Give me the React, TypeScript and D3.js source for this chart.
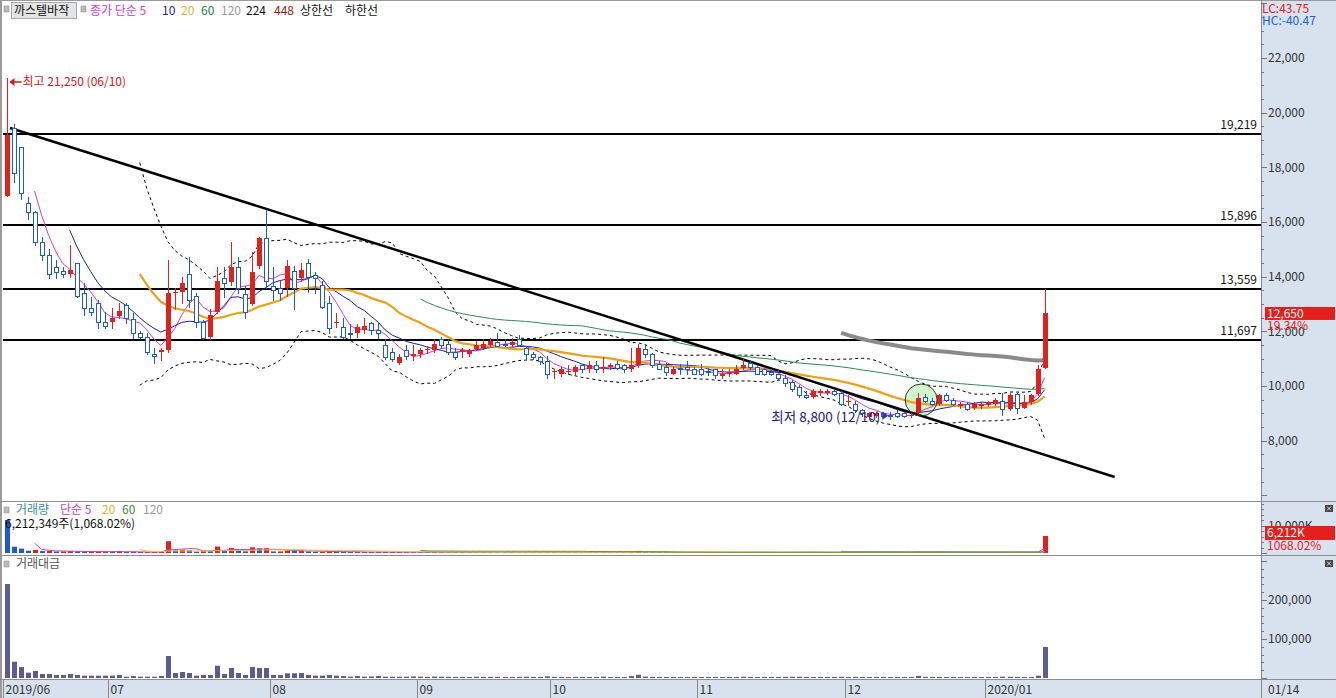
import React from "react";
import * as d3 from "d3";

// ---------- DATA ----------
const monthLabels = [
  { i: 0, label: "2019/06" }, { i: 15, label: "07" }, { i: 38, label: "08" }, { i: 59, label: "09" },
  { i: 78, label: "10" }, { i: 99, label: "11" }, { i: 120, label: "12" }, { i: 140, label: "2020/01" },
];
const lastDateLabel = "01/14";

const opens = [
  16950, 19450, 18750, 16700, 16350, 15250, 14800, 14350, 14200, 14100,
  14500, 13400, 12850, 13050, 12350, 12350, 12550, 12950, 12450, 11950,
  11800, 11150, 11250, 11300, 13400, 13450, 14100, 13300, 12350, 11800,
  12700, 13950, 13800, 14350, 13350, 13000, 14400, 15400, 13650, 13600,
  13600, 14200, 13950, 14500, 14050, 13700, 13050, 12300, 12150, 11950,
  11950, 12050, 12300, 12050, 11500, 11250, 10850, 11300, 11100, 11150,
  11300, 11300, 11700, 11550, 11250, 11250, 11150, 11350, 11400, 11500,
  11600, 11550, 11500, 11700, 11400, 11150, 11050, 10900, 10500, 10450,
  10500, 10500, 10750, 10600, 10750, 10600, 10700, 10800, 10750, 10600,
  10750, 11350, 11150, 10800, 10700, 10450, 10650, 10700, 10600, 10600,
  10550, 10600, 10350, 10450, 10450, 10650, 10850, 10700, 10600, 10500,
  10450, 10300, 10150, 9950, 9650, 9600, 9750, 9750, 9800, 9750,
  9400, 9350, 9100, 8850, 8900, 9000, 8950, 9000, 9000, 8900,
  9000, 9600, 9450, 9350, 9650, 9500, 9250, 9350, 9200, 9250,
  9300, 9350, 9450, 9150, 9700, 9200, 9400, 9700, 10650,
];
const highs = [
  21250, 19600, 18750, 16900, 16400, 15450, 15000, 14600, 14350, 15150,
  14500, 13750, 13250, 13150, 12700, 12850, 13050, 13050, 12650, 12000,
  11950, 11400, 11400, 14600, 13600, 14000, 14700, 13400, 12400, 12800,
  14350, 14350, 15250, 14700, 13650, 14900, 15450, 16450, 14350, 13850,
  14600, 14400, 14500, 14650, 14150, 13850, 13300, 12650, 12500, 12250,
  12250, 12500, 12350, 12300, 11700, 11400, 11150, 11500, 11500, 11400,
  11450, 11700, 11800, 11700, 11400, 11400, 11350, 11650, 11700, 11750,
  11950, 11700, 11750, 11850, 11450, 11250, 11100, 11100, 10600, 10700,
  10750, 10750, 10800, 10900, 10900, 11050, 10850, 10900, 10800, 11400,
  11550, 11500, 11200, 10900, 10850, 10700, 10800, 10900, 10700, 10800,
  10650, 10600, 10600, 10600, 10750, 11000, 10950, 10750, 10650, 10600,
  10600, 10400, 10200, 10050, 9800, 9900, 9900, 9900, 9850, 9800,
  9650, 9450, 9150, 9050, 9050, 9050, 9050, 9100, 9050, 9000,
  9750, 9700, 9550, 9700, 9750, 9550, 9400, 9400, 9400, 9400,
  9450, 9550, 9750, 9750, 9750, 9650, 9700, 10750, 13550,
];
const lows = [
  16950, 17450, 16850, 16100, 15150, 14600, 13950, 13950, 14000, 14000,
  13250, 12600, 12600, 12100, 12100, 12100, 12500, 12300, 11750, 11750,
  11150, 10850, 10950, 11250, 12800, 13050, 12900, 12150, 11700, 11700,
  12650, 13250, 13700, 13400, 12500, 12950, 14300, 13600, 13150, 13150,
  13300, 12800, 13850, 13450, 13400, 12850, 11950, 12150, 11750, 11750,
  11800, 11950, 11900, 11750, 11000, 10900, 10800, 11000, 10950, 11050,
  11200, 11250, 11400, 11150, 11000, 11050, 11100, 11300, 11350, 11450,
  11450, 11450, 11450, 11450, 11000, 11000, 10800, 10300, 10300, 10350,
  10450, 10450, 10500, 10500, 10500, 10500, 10600, 10600, 10500, 10550,
  10700, 11050, 10700, 10600, 10400, 10450, 10450, 10450, 10450, 10400,
  10400, 10300, 10300, 10350, 10450, 10600, 10600, 10450, 10400, 10400,
  10250, 10000, 9800, 9600, 9550, 9550, 9650, 9700, 9650, 9300,
  9300, 9050, 8900, 8850, 8850, 8850, 8800, 8850, 8850, 8850,
  8950, 9400, 9300, 9300, 9450, 9300, 9200, 9100, 9150, 9200,
  9250, 9300, 8950, 9100, 9000, 9200, 9350, 9650, 10650,
];
const closes = [
  19200, 17800, 17050, 16350, 15250, 14800, 14100, 14150, 14100, 14250,
  13300, 12850, 12700, 12350, 12200, 12500, 12750, 12500, 11950, 11800,
  11250, 11100, 11300, 13400, 13450, 13750, 13150, 12350, 11750, 12600,
  13850, 13750, 14350, 13600, 12700, 14150, 15400, 13850, 13500, 13400,
  14400, 13600, 14250, 14000, 13950, 12900, 12100, 12350, 11800, 11900,
  12150, 12200, 12050, 11950, 11050, 11000, 11050, 11100, 11150, 11300,
  11350, 11550, 11500, 11250, 11050, 11300, 11300, 11500, 11550, 11650,
  11450, 11500, 11600, 11500, 11150, 11050, 10900, 10450, 10550, 10600,
  10550, 10700, 10600, 10750, 10600, 10700, 10750, 10650, 10600, 10750,
  11400, 11150, 10750, 10600, 10500, 10600, 10600, 10600, 10450, 10450,
  10500, 10400, 10450, 10500, 10600, 10750, 10700, 10450, 10450, 10450,
  10300, 10100, 9900, 9650, 9600, 9800, 9800, 9800, 9700, 9350,
  9450, 9100, 9000, 9000, 9000, 8900, 8900, 8900, 8900, 8950,
  9550, 9450, 9350, 9650, 9500, 9350, 9350, 9150, 9350, 9350,
  9400, 9500, 9150, 9650, 9200, 9400, 9650, 10600, 12650,
];
// volume, thousand shares
const volumes = [
  12000, 2300, 1600, 830, 1150, 700, 720, 540, 545, 720,
  560, 460, 470, 480, 490, 480, 610, 270, 410, 290,
  300, 310, 450, 4300, 950, 1150, 950, 480, 640, 630,
  2350, 740, 1800, 930, 590, 2050, 1700, 1750, 560, 570,
  870, 860, 900, 550, 430, 450, 620, 490, 420, 290,
  420, 280, 330, 420, 300, 310, 310, 300, 360, 300,
  265, 330, 280, 265, 250, 230, 220, 280, 260, 245,
  260, 225, 235, 255, 295, 255, 275, 400, 285, 245,
  225, 262, 235, 252, 235, 318, 242, 235, 226, 445,
  730, 320, 275, 245, 255, 226, 217, 236, 228, 238,
  219, 248, 230, 219, 238, 310, 262, 248, 229, 220,
  250, 295, 320, 340, 280, 258, 235, 225, 236, 330,
  276, 315, 298, 267, 256, 245, 290, 256, 245, 235,
  560, 315, 255, 305, 265, 245, 225, 238, 215, 214,
  222, 233, 360, 340, 295, 245, 275, 581.67, 6212.349,
];
// trading value, million won
const tradeValues = [
  241000, 41800, 28000, 13600, 18000, 10300, 10300, 7700, 7700, 10300,
  7700, 6000, 6000, 6000, 6000, 6000, 7700, 3400, 5000, 3400,
  3400, 3400, 5000, 56400, 12800, 15400, 12800, 6000, 7700, 7700,
  31500, 10300, 25600, 12800, 7700, 28200, 25600, 25600, 7700, 7700,
  12000, 12000, 12800, 7700, 6000, 6000, 7700, 6000, 5000, 3400,
  5000, 3400, 4000, 5000, 3400, 3400, 3400, 3400, 4000, 3400,
  3000, 3800, 3200, 3000, 2800, 2600, 2500, 3200, 3000, 2800,
  3000, 2600, 2700, 2900, 3300, 2800, 3000, 4200, 3000, 2600,
  2400, 2800, 2500, 2700, 2500, 3400, 2600, 2500, 2400, 4800,
  8200, 3600, 3000, 2600, 2700, 2400, 2300, 2500, 2400, 2500,
  2300, 2600, 2400, 2300, 2500, 3300, 2800, 2600, 2400, 2300,
  2600, 3000, 3200, 3300, 2700, 2500, 2300, 2200, 2300, 3100,
  2600, 2900, 2700, 2400, 2300, 2200, 2600, 2300, 2200, 2100,
  5200, 3000, 2400, 2900, 2500, 2300, 2100, 2200, 2000, 2000,
  2100, 2200, 3400, 3200, 2800, 2300, 2600, 5900, 79500,
];

const priceTicks = [8000, 10000, 12000, 14000, 16000, 18000, 20000, 22000];
const levelLines = [19219, 15896, 13559, 11697];
const trendPoints = [{ i: 0.5, p: 19440 }, { i: 158, p: 6665 }];
const circleMark = { i: 130.4, p: 9483, r: 16 };
const highMark = { i: 0, p: 21250, text: "최고 21,250 (06/10)" };
const lowMark = { i: 126, p: 8800, text: "최저 8,800 (12/10)" };
const valueTicks = [100000, 200000];
const volTicks = [10000];
const maPeriods = [5, 10, 20, 60, 120];

// ---------- LAYOUT ----------
const W = 1336, H = 698;
const PL = 3, PR = 1261;
const SLOT = 7.014;
const FONT = "'Noto Sans CJK KR', 'Noto Sans', sans-serif";
const RED = "#e3211c", BLUE = "#1c5ad0", AXBG = "#d8e1ee";

const x = d3.scaleLinear().domain([-0.5, 178.5]).range([PL, PL + 179 * SLOT]);
const yP = d3.scaleLinear().domain([5823, 24123]).range([500, 0]);
const yV = d3.scaleLinear().domain([0, 18600]).range([553, 502]);
const yT = d3.scaleLinear().domain([0, 312800]).range([678, 556]);

function sma(arr: number[], n: number): (number | null)[] {
  return arr.map((_, i) => (i < n - 1 ? null : (d3.mean(arr.slice(i - n + 1, i + 1)) as number)));
}
function bands(arr: number[], n: number, k: number) {
  const up: (number | null)[] = [], dn: (number | null)[] = [];
  arr.forEach((_, i) => {
    if (i < n - 1) { up.push(null); dn.push(null); return; }
    const s = arr.slice(i - n + 1, i + 1);
    const m = d3.mean(s) as number;
    const sd = Math.sqrt(d3.mean(s.map(v => (v - m) ** 2)) as number);
    up.push(m + k * sd); dn.push(m - k * sd);
  });
  return { up, dn };
}
function pathOf(vals: (number | null)[], ys: d3.ScaleLinear<number, number>) {
  const line = d3.line<number | null>()
    .defined(v => v != null)
    .x((_, i) => x(i))
    .y(v => ys(v as number));
  return line(vals) || "";
}

export default function App() {
  const n = closes.length;
  const ma = maPeriods.map(p => sma(closes, p));
  const bb = bands(closes, 20, 2);
  const vma = [5, 20, 60, 120].map(p => sma(volumes, p));
  const maColors = ["#d23cd6", "#1e1e9c", "#e8a21e", "#2e8a4e", "#8a8a8a"];
  const maWidths = [1, 1, 2.2, 1, 4];
  const vmaColors = ["#c83cc8", "#e8c81e", "#5a9a2a", "#8a8a8a"];

  const mainTicksMinor = d3.range(6000, 24001, 500);
  const lastClose = closes[n - 1], prevClose = closes[n - 2];
  const chg = ((lastClose / prevClose - 1) * 100).toFixed(2);
  const lastVol = volumes[n - 1], prevVol = volumes[n - 2];
  const vratio = (lastVol / prevVol) * 100;

  return (
    <svg width={W} height={H} style={{ position: "absolute", left: 0, top: 0, background: "#fff" }}
      fontFamily={FONT} fontSize={12}>
      <defs>
        <clipPath id="mainClip"><rect x={PL} y={0} width={PR - PL} height={500} /></clipPath>
      </defs>
      <rect x={0} y={0} width={W} height={H} fill="#fff" />
      <rect x={PR} y={0} width={W - PR} height={H} fill={AXBG} />
      <rect x={0} y={679} width={W} height={H - 679} fill={AXBG} />
      <rect x={0} y={0} width={2} height={H} fill="#9a9a9a" />
      <line x1={0} x2={W} y1={0.5} y2={0.5} stroke="#9a9a9a" />
      {[501.5, 555.5, 679.5].map(yy => <line key={yy} x1={0} x2={W} y1={yy} y2={yy} stroke="#8e8e8e" />)}
      <line x1={PR + 0.5} x2={PR + 0.5} y1={0} y2={H} stroke="#888" />

      {/* main axis ticks */}
      {mainTicksMinor.map(t => {
        const yy = Math.round(yP(t)) + 0.5;
        const major = t % 2000 === 0;
        return yy > 2 && yy < 500 ? <line key={t} x1={PR} x2={PR + (major ? 6 : 3)} y1={yy} y2={yy} stroke="#777" /> : null;
      })}
      {priceTicks.map(t => (
        <text key={t} x={PR + 7} y={yP(t)} dy="0.36em" fill="#333">{d3.format(",")(t)}</text>
      ))}
      {d3.range(0, 18001, 2000).map(t => (
        <line key={"v" + t} x1={PR} x2={PR + (t % 10000 === 0 ? 6 : 3)} y1={Math.round(yV(t)) + 0.5} y2={Math.round(yV(t)) + 0.5} stroke="#777" />
      ))}
      {volTicks.map(t => <text key={"vt" + t} x={PR + 7} y={yV(t)} dy="0.36em" fill="#333">{d3.format(",")(t)}K</text>)}
      {d3.range(0, 300001, 20000).map(t => (
        <line key={"t" + t} x1={PR} x2={PR + (t % 100000 === 0 ? 6 : 3)} y1={Math.round(yT(t)) + 0.5} y2={Math.round(yT(t)) + 0.5} stroke="#777" />
      ))}
      {valueTicks.map(t => <text key={"tt" + t} x={PR + 7} y={yT(t)} dy="0.36em" fill="#333">{d3.format(",")(t)}</text>)}

      {/* header */}
      <rect x={4} y={6} width={5} height={6} fill="#bbb" stroke="#888" strokeWidth={0.5} />
      <rect x={11.5} y={2.5} width={65} height={16} fill="#e4e4e4" stroke="#aaa" />
      <text x={14} y={15} fill="#111">까스텔바작</text>
      <rect x={81} y={6} width={5} height={6} fill="#bbb" stroke="#888" strokeWidth={0.5} />
      <text x={90} y={15} fill="#d23cd6">종가 단순 5</text>
      <text x={162} y={15} fill="#1e1e9c">10</text>
      <text x={181} y={15} fill="#e0b030">20</text>
      <text x={201} y={15} fill="#208040">60</text>
      <text x={221} y={15} fill="#999">120</text>
      <text x={246} y={15} fill="#111">224</text>
      <text x={274} y={15} fill="#8b1a1a">448</text>
      <text x={300} y={15} fill="#111">상한선</text>
      <text x={345} y={15} fill="#111">하한선</text>
      <text x={1262} y={9} dy="0.36em" fill="#e02020">LC:43.75</text>
      <text x={1262} y={21} dy="0.36em" fill="#2060d0">HC:-40.47</text>

      <g clipPath="url(#mainClip)">
        <circle cx={x(circleMark.i)} cy={yP(circleMark.p)} r={circleMark.r} fill="#c6f2bf" opacity={0.8} />
        {levelLines.map(l => (
          <line key={l} x1={PL} x2={PR} y1={Math.round(yP(l))} y2={Math.round(yP(l))} stroke="#000" strokeWidth={2} />
        ))}
        <path d={pathOf(bb.up, yP)} fill="none" stroke="#000" strokeWidth={1} strokeDasharray="3,3" />
        <path d={pathOf(bb.dn, yP)} fill="none" stroke="#000" strokeWidth={1} strokeDasharray="3,3" />
        {ma.map((m, k) => (
          <path key={k} d={pathOf(m, yP)} fill="none" stroke={maColors[k]} strokeWidth={maWidths[k]} />
        ))}
        <line x1={x(trendPoints[0].i)} y1={yP(trendPoints[0].p)} x2={x(trendPoints[1].i)} y2={yP(trendPoints[1].p)}
          stroke="#000" strokeWidth={2.5} />
        {closes.map((c, i) => {
          const o = opens[i], up = c >= o;
          const cx = Math.round(x(i));
          const top = Math.round(yP(Math.max(o, c)));
          const bot = Math.round(yP(Math.min(o, c)));
          const col = up ? RED : BLUE;
          return (
            <g key={i}>
              <line x1={cx + 0.5} x2={cx + 0.5} y1={Math.round(yP(highs[i]))} y2={Math.round(yP(lows[i])) + 1} stroke={col} />
              {up
                ? <rect x={cx - 2} y={top} width={5} height={Math.max(1, bot - top)} fill={col} />
                : <rect x={cx - 1.5} y={top + 0.5} width={4} height={Math.max(0.01, bot - top)} fill="#fff" stroke={col} />}
            </g>
          );
        })}
        <circle cx={x(circleMark.i)} cy={yP(circleMark.p)} r={circleMark.r} fill="none" stroke="#333" strokeWidth={1} />
      </g>

      {levelLines.map(l => (
        <text key={"l" + l} x={PR - 4} y={Math.round(yP(l)) - 5} textAnchor="end" fill="#111">{d3.format(",")(l)}</text>
      ))}

      {/* high / low annotations */}
      <line x1={x(highMark.i) + 15} x2={x(highMark.i) + 4} y1={yP(highMark.p) + 3.5} y2={yP(highMark.p) + 3.5} stroke="#d01818" strokeWidth={1.5} />
      <path d={`M${x(highMark.i) + 3},${yP(highMark.p) + 3.5} l5,-4 v8 z`} fill="#d01818" />
      <text x={x(highMark.i) + 16} y={yP(highMark.p) + 3.5} dy="0.36em" fill="#d01818">{highMark.text}</text>
      <text x={x(lowMark.i) - 10} y={yP(lowMark.p) - 2} dy="0.36em" textAnchor="end" fontSize={13.5} fill="#22228a">{lowMark.text}</text>
      <path d={`M${x(lowMark.i) - 8},${yP(lowMark.p) - 7} l6,4 l-6,4 z`} fill="#1c3ad0" />

      {/* last price box */}
      <rect x={1265} y={yP(lastClose) - 6.5} width={70} height={13} fill="#e3211c" />
      <text x={1267} y={yP(lastClose)} dy="0.36em" fill="#fff">{d3.format(",")(lastClose)}</text>
      <text x={1267} y={yP(lastClose) + 12} dy="0.36em" fill="#e3211c">{chg}%</text>

      {/* volume panel */}
      <rect x={4} y={507} width={5} height={6} fill="#bbb" stroke="#888" strokeWidth={0.5} />
      <text x={16} y={514} fill="#3a8a9a">거래량</text>
      <text x={60} y={514} fill="#c83cc8">단순 5</text>
      <text x={102} y={514} fill="#e0b030">20</text>
      <text x={122} y={514} fill="#3a8a3a">60</text>
      <text x={143} y={514} fill="#999">120</text>
      {volumes.map((v, i) => {
        const cx = Math.round(x(i));
        const up = i > 0 && v >= volumes[i - 1];
        const h = Math.max(1, yV(0) - yV(v));
        return <rect key={"vb" + i} x={cx - 2} y={yV(0) - h} width={5} height={h} fill={up ? RED : BLUE} />;
      })}
      {vma.map((m, k) => (
        <path key={"vm" + k} d={pathOf(m, yV)} fill="none" stroke={vmaColors[k]} strokeWidth={1} />
      ))}
      <text x={5} y={528} fill="#111">{d3.format(",")(Math.round(lastVol * 1000))}주({d3.format(",.2f")(vratio)}%)</text>
      <rect x={1265} y={yV(lastVol) - 10} width={70} height={14} fill="#e3211c" />
      <text x={1267} y={yV(lastVol) - 3} dy="0.36em" fill="#fff">{d3.format(",")(Math.round(lastVol))}K</text>
      <text x={1267} y={yV(lastVol) + 10} dy="0.36em" fill="#e3211c">{vratio.toFixed(2)}%</text>
      <rect x={1325} y={505} width={8} height={7} fill="#444" />
      <path d="M1327,506.5 l4,4 M1331,506.5 l-4,4" stroke="#fff" strokeWidth={0.8} />

      {/* value panel */}
      <rect x={4} y={561} width={5} height={6} fill="#bbb" stroke="#888" strokeWidth={0.5} />
      <text x={16} y={568} fill="#555">거래대금</text>
      {tradeValues.map((v, i) => {
        const cx = Math.round(x(i));
        const h = Math.max(1, yT(0) - yT(v));
        return <rect key={"tb" + i} x={cx - 2} y={yT(0) - h} width={5} height={h} fill="#5c5c94" />;
      })}
      <rect x={1325} y={560} width={8} height={7} fill="#444" />
      <path d="M1327,561.5 l4,4 M1331,561.5 l-4,4" stroke="#fff" strokeWidth={0.8} />

      {/* x axis */}
      {monthLabels.map(m => {
        const lx = Math.round(x(m.i - 0.5)) + 0.5;
        return (
          <g key={m.label}>
            <line x1={lx} x2={lx} y1={680} y2={H} stroke="#888" />
            <text x={lx + 2} y={694} fill="#333">{m.label}</text>
          </g>
        );
      })}
      <text x={PR + 7} y={694} fill="#333">{lastDateLabel}</text>
    </svg>
  );
}
